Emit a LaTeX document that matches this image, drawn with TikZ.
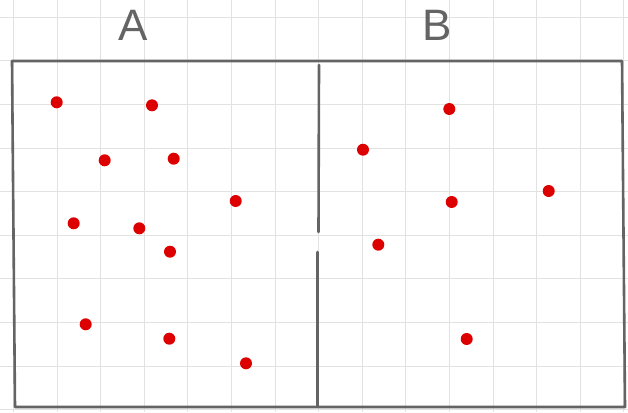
\documentclass[tikz,border=0pt]{standalone}
\usepackage{fontspec}
\setmainfont{Liberation Sans}
\usetikzlibrary{positioning}
\definecolor{gridgray}{HTML}{E2E2E2}
\definecolor{framegray}{HTML}{646464}
\definecolor{dotred}{HTML}{DD0000}
\tikzset{
  dot/.style={circle, fill=dotred, inner sep=0pt, minimum size=12pt},
  setlabel/.style={font=\fontsize{44}{44}\selectfont, text=framegray},
  frame/.style={draw=framegray, line width=2.6pt, line cap=round, line join=round}
}
\begin{document}
\begin{tikzpicture}[x=1pt, y=-1pt]
\useasboundingbox (0,0) rectangle (628,412);
% background grid
\foreach \k in {0,...,14}
  \draw[gridgray, line width=1pt] ({13.5+43.6*\k},0) -- ({13.5+43.6*\k},412);
\foreach \k in {0,...,9}
  \draw[gridgray, line width=1pt] (0,{17.3+43.6*\k}) -- (628,{17.3+43.6*\k});
% labels
\node[setlabel] (labelA) at (133,25) {A};
\node[setlabel] (labelB) at (437,25) {B};
% outer frame and divider
\draw[frame] (12,61) -- (622,61) -- (625,407) -- (15,407) -- cycle;
\draw[frame] (319,65) -- (318.5,232);
\draw[frame] (317.7,252) -- (317.7,406);
% points in A
\node[dot] (a1) at (56.7,102.3) {};
\node[dot] (a2) at (152,105.3) {};
\node[dot] (a3) at (104.7,160.3) {};
\node[dot] (a4) at (173.7,158.7) {};
\node[dot] (a5) at (235.7,201) {};
\node[dot] (a6) at (73.7,223.3) {};
\node[dot] (a7) at (139.3,228.3) {};
\node[dot] (a8) at (170,251.7) {};
\node[dot] (a9) at (85.7,324.3) {};
\node[dot] (a10) at (169.3,338.7) {};
\node[dot] (a11) at (246,363.3) {};
% points in B
\node[dot] (b1) at (449.3,109) {};
\node[dot] (b2) at (363,149.7) {};
\node[dot] (b3) at (451.7,202) {};
\node[dot] (b4) at (548.7,191) {};
\node[dot] (b5) at (378.3,244.7) {};
\node[dot] (b6) at (466.7,339) {};
\end{tikzpicture}
\end{document}
